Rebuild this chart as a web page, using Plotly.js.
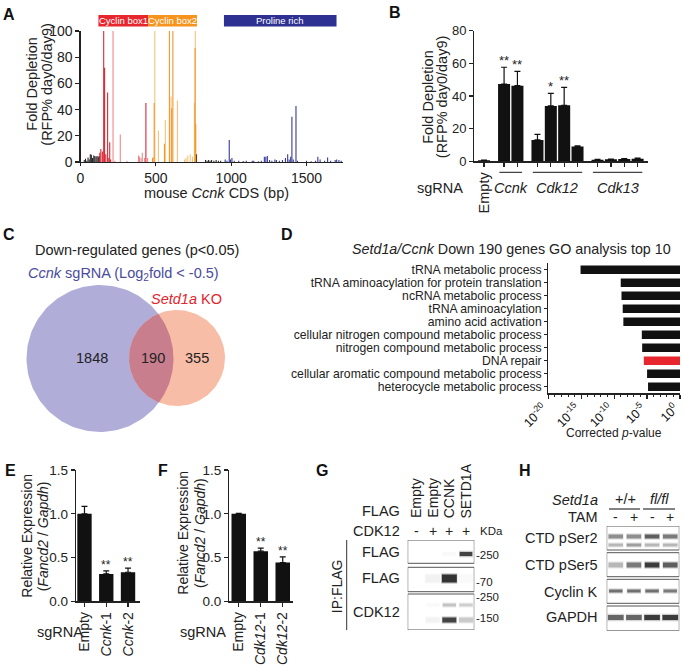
<!DOCTYPE html>
<html><head><meta charset="utf-8">
<script src="https://cdn.plot.ly/plotly-3.0.1.min.js"></script>
<style>html,body{margin:0;padding:0;background:#fff}#chart{width:685px;height:667px}</style>
</head><body><div id="chart"></div>
<script>
// ================= DATA =================
// Panel A: sgRNA tiling along mouse Ccnk CDS (bp position, fold depletion)
const aBlackPos = [25,33,42,50,58,65,72,80,88,95,103,110,118,125,770,830,840,850,860,870,885,900,915,930];
const aBlackVal = [1.5,2.5,1,3.5,2,6,5.5,3,5,4.5,4,4.5,4,4.5,6,1.5,1,1.5,1,1.5,1,1.5,1,1];
const aRedDarkPos = [128,135,145,154,160,168,180,188,194,200,434];
const aRedDarkVal = [7,10,8,100,72,6,53,3,15,2,45];
const aRedLightPos = [216,228,264,308,385,392,402,410,425,445];
const aRedLightVal = [100,1,21,1,5,4,3,7,3,3];
const aOrangeDarkPos = [478,489,557,590,605,613,760,765];
const aOrangeDarkVal = [3,45,14,100,41,100,87,29];
const aOrangeLightPos = [483,493,517,563,601,643,690,700,712,728,743,756,762];
const aOrangeLightVal = [4,100,24,32,50,47,2,3,5,6,4,45,100];
const aBluePos = [960,972,987,995,1005,1020,1050,1080,1100,1140,1150,1180,1200,1220,1230,1240,1255,1270,1290,1300,1320,1340,1360,1375,1385,1395,1403,1412,1430,1440,1500,1530,1560,1575,1590,1620,1640,1660,1690,1700,1715,1730];
const aBlueVal = [2,1,16.8,2,3,1,1,0.8,1,1,1,0.5,1,4,4,4.5,1.5,1,2,1.5,1,1.5,3,6,2,4,34.6,2,42.7,1,1,0.5,1,4,2,1,3.5,1,1.5,2,1.5,1];
const aDomains = ['Cyclin box1','Cyclin box2','Proline rich'];
const aDomainStart = [119,449,952];
const aDomainEnd = [449,773,1699];

// Panel B
const bGroups = ['Empty','Ccnk','Cdk12','Cdk13'];
const bGroupSizes = [1,2,4,4];
const bVal = [0.6,47.3,46.3,13.1,33.9,34.3,9.0,1.0,1.2,1.4,1.6];
const bErr = [0.1,10.3,8.8,3.4,7.7,11.0,0.4,0.2,0.2,0.2,0.3];
const bSig = ['','**','**','','*','**','','','','',''];

// Panel C (Venn)
const vennTitle = 'Down-regulated genes (p&lt;0.05)';
const vennSetA = '<i>Ccnk</i> sgRNA (Log<sub>2</sub>fold &lt; -0.5)';
const vennSetB = '<i>Setd1a</i> KO';
const vennCounts = [1848,190,355];

// Panel D
const goTerms = ['tRNA metabolic process','tRNA aminoacylation for protein translation','ncRNA metabolic process','tRNA aminoacylation','amino acid activation','cellular nitrogen compound metabolic process','nitrogen compound metabolic process','DNA repair','cellular aromatic compound metabolic process','heterocycle metabolic process'];
const goP = [7.9e-16,1.0e-9,1.3e-9,2.0e-9,2.5e-9,1.6e-6,1.8e-6,3.2e-6,1.0e-5,1.4e-5];
const goHighlight = 'DNA repair';
const goTickExp = [-20,-15,-10,-5,0];

// Panel E / F
const eLabels = ['Empty','<i>Ccnk</i>-1','<i>Ccnk</i>-2'];
const eVal = [1.0,0.313,0.332];
const eErr = [0.084,0.034,0.046];
const eSig = ['','**','**'];
const fLabels = ['Empty','<i>Cdk12</i>-1','<i>Cdk12</i>-2'];
const fVal = [1.0,0.573,0.443];
const fErr = [0.005,0.034,0.065];
const fSig = ['','**','**'];

// Panel G (blot band intensities per lane)
const gLanes = ['Empty','Empty','CCNK','SETD1A'];
const gCdk12 = ['-','+','+','+'];
const gRows = ['FLAG','FLAG','CDK12'];
const gMarkers = ['-250','-70','-250','-150'];
const gFlagHigh = [0,0,0.03,0.9];
const gFlagLow = [0,0.05,1.0,0.03];
const gCdk12Upper = [0,0.03,0.25,0.2];
const gCdk12Lower = [0,0.05,0.9,0.22];

// Panel H
const hGenotype = ['+/+','<i>fl/fl</i>'];
const hTam = ['-','+','-','+'];
const hRows = ['CTD pSer2','CTD pSer5','Cyclin K','GAPDH'];
const hSer2Upper = [0.5,0.5,0.75,0.6];
const hSer2Lower = [0.3,0.42,0.3,0.3];
const hSer5 = [0.3,0.6,0.95,0.75];
const hCyclinK = [0.65,0.65,0.65,0.6];
const hGapdh = [0.7,0.7,0.95,0.95];

// ================= HELPERS =================
const FONT = 'Liberation Sans, Arial, Helvetica, sans-serif';
const W = 685, H = 667;
const px = x => x / W, py = y => 1 - y / H;
const xd = (a,b) => [a/W, b/W];
const yd = (top,bot) => [1 - bot/H, 1 - top/H];
const INK = '#222';
function ax(o){
  return Object.assign({showline:true, linecolor:INK, linewidth:1.2, ticks:'outside', ticklen:4, tickwidth:1.2,
    tickcolor:INK, showgrid:false, zeroline:false, fixedrange:true,
    tickfont:{family:FONT, size:13.5, color:INK}}, o);
}
function hidden(o){ return Object.assign({visible:false, fixedrange:true, showgrid:false, zeroline:false}, o); }
function T(text, x, y, size, o){
  const a = {text, x:px(x), y:py(y), xref:'paper', yref:'paper', showarrow:false, xanchor:'center', yanchor:'middle',
    font:{family:FONT, size, color:(o && o.color) || INK}};
  if (o) for (const k in o) if (k !== 'color') a[k] = o[k];
  return a;
}

const traces = [];
const annotations = [];
const shapes = [];

// ================= PANEL A =================
function aBar(pos, val, color){
  traces.push({type:'bar', x:pos, y:val, width:7, marker:{color, line:{width:0}}, xaxis:'x', yaxis:'y', hoverinfo:'skip'});
}
aBar(aBlackPos, aBlackVal, '#231f20');
aBar(aBluePos, aBlueVal, '#2e3192');
aBar(aRedLightPos, aRedLightVal, '#ef8587');
aBar(aOrangeLightPos, aOrangeLightVal, '#f9bf78');
aBar(aRedDarkPos, aRedDarkVal, '#d7202c');
aBar(aOrangeDarkPos, aOrangeDarkVal, '#f39422');
const aDomColors = ['#e8262d','#f7941d','#2e3192'];
aDomains.forEach((d,i) => {
  shapes.push({type:'rect', xref:'x', yref:'paper', x0:aDomainStart[i], x1:aDomainEnd[i], y0:py(26.5), y1:py(15),
    fillcolor:aDomColors[i], line:{width:0}});
  annotations.push(T(d, 0, 20.8, 9.5, {xref:'x', x:(aDomainStart[i]+aDomainEnd[i])/2, color:'#fff'}));
});
annotations.push(T('Fold Depletion', 31.7, 84, 14.5, {textangle:-90}));
annotations.push(T('(RFP% day0/day9)', 46.7, 84, 14.5, {textangle:-90}));
annotations.push(T('mouse <i>Ccnk</i> CDS (bp)', 216, 192.5, 14.5));

// ================= PANEL B =================
const bPos = []; const bTickText = [];
{ let p = 0; bGroups.forEach((g,gi) => { for (let i=0;i<bGroupSizes[gi];i++){ bPos.push(p); bTickText.push(g==='Empty'?'Empty':' '); p+=1; } p+=0.5; }); }
traces.push({type:'bar', x:bPos, y:bVal, width:0.9, marker:{color:'#111', line:{width:0}}, xaxis:'x2', yaxis:'y2', hoverinfo:'skip',
  error_y:{type:'data', symmetric:false, array:bErr, arrayminus:bErr.map(()=>0), color:'#111', thickness:1.2, width:3}});
bSig.forEach((s,i) => { if (s) annotations.push({text:s, xref:'x2', yref:'y2', x:bPos[i], y:bVal[i]+bErr[i], yanchor:'bottom', xanchor:'center', showarrow:false, yshift:-3, font:{family:FONT,size:13,color:INK}}); });
{ let k = 0; bGroups.forEach((g,gi) => {
  const first = bPos[k], last = bPos[k+bGroupSizes[gi]-1]; k += bGroupSizes[gi];
  if (g === 'Empty') return;
  shapes.push({type:'line', xref:'x2', yref:'paper', x0:first-0.35, x1:last+0.35, y0:py(172.3), y1:py(172.3), line:{color:'#444', width:1.2}});
  annotations.push(T('<i>'+g+'</i>', 0, 188.3, 14.5, {xref:'x2', x:(first+last)/2}));
}); }
annotations.push(T('sgRNA', 440, 188.3, 14.5));
annotations.push(T('Fold Depletion', 428.3, 96.5, 14.5, {textangle:-90}));
annotations.push(T('(RFP% day0/day9)', 442.7, 96.5, 14.5, {textangle:-90}));

// ================= PANEL C (Venn) =================
const bigC = {cx:100, cy:358.5, r:73.5}, smallC = {cx:177, cy:358, r:48};
function arc(c, a0, a1, n){ const xs=[], ys=[]; for (let i=0;i<=n;i++){ const t=a0+(a1-a0)*i/n; xs.push(c.cx+c.r*Math.cos(t)); ys.push(c.cy+c.r*Math.sin(t)); } return [xs,ys]; }
function circleTrace(c, color){ const [xs,ys] = arc(c, 0, 2*Math.PI, 160); return {type:'scatter', mode:'lines', x:xs, y:ys, fill:'toself', fillcolor:color, line:{width:0}, xaxis:'x6', yaxis:'y6', hoverinfo:'skip'}; }
traces.push(circleTrace(bigC, '#b1add9'));
traces.push(circleTrace(smallC, '#f8bda6'));
{
  const dx = smallC.cx-bigC.cx, dy = smallC.cy-bigC.cy, d = Math.hypot(dx,dy), dir = Math.atan2(dy,dx);
  const a = (d*d + bigC.r*bigC.r - smallC.r*smallC.r)/(2*d), b = d - a;
  const al = Math.acos(a/bigC.r), be = Math.acos(b/smallC.r);
  const [x1,y1] = arc(bigC, dir-al, dir+al, 60);
  const [x2,y2] = arc(smallC, dir+Math.PI-be, dir+Math.PI+be, 60);
  traces.push({type:'scatter', mode:'lines', x:x1.concat(x2), y:y1.concat(y2), fill:'toself', fillcolor:'#c97e8e', line:{width:0}, xaxis:'x6', yaxis:'y6', hoverinfo:'skip'});
}
annotations.push(T(vennTitle, 137, 250, 14.5));
annotations.push(T(vennSetA, 123, 274, 14.5, {color:'#4b4b9e'}));
annotations.push(T(vennSetB, 187, 299, 14.5, {color:'#e0262e'}));
annotations.push(T(String(vennCounts[0]), 92, 358, 14.5));
annotations.push(T(String(vennCounts[1]), 153, 358, 14.5));
annotations.push(T(String(vennCounts[2]), 197, 358, 14.5));

// ================= PANEL D =================
const goIdx = goTerms.map((_,i)=>i);
traces.push({type:'bar', orientation:'h', y:goIdx, x:goP.map(p=>Math.log10(p)), width:0.66,
  marker:{color:goTerms.map(t=>t===goHighlight?'#e8262d':'#111'), line:{width:0}}, xaxis:'x3', yaxis:'y3', hoverinfo:'skip'});
goTickExp.forEach(e => annotations.push({text:'10<sup>'+e+'</sup>', xref:'x3', yref:'paper', x:e, y:py(396.5), xanchor:'right', yanchor:'top',
  xshift:4, textangle:-45, showarrow:false, font:{family:FONT, size:12.5, color:'#111'}}));
annotations.push(T('<i>Setd1a/Ccnk</i> Down 190 genes GO analysis top 10', 511.7, 249.3, 14.3));
annotations.push(T('Corrected <i>p</i>-value', 614, 433.3, 12));

// ================= PANEL E / F =================
function smallBars(vals, errs, sig, xa, ya){
  const xs = vals.map((_,i)=>i);
  traces.push({type:'bar', x:xs, y:vals, width:0.66, marker:{color:'#111', line:{width:0}}, xaxis:xa, yaxis:ya, hoverinfo:'skip',
    error_y:{type:'data', symmetric:false, array:errs, arrayminus:errs.map(()=>0), color:'#111', thickness:1.2, width:3}});
  sig.forEach((s,i)=>{ if (s) annotations.push({text:s, xref:xa, yref:ya, x:i, y:vals[i]+errs[i], xanchor:'center', yanchor:'bottom', yshift:-3, showarrow:false, font:{family:FONT,size:12,color:INK}}); });
}
smallBars(eVal, eErr, eSig, 'x4', 'y4');
smallBars(fVal, fErr, fSig, 'x5', 'y5');
annotations.push(T('Relative Expression', 26.7, 536, 14, {textangle:-90}));
annotations.push(T('(<i>Fancd2</i> / <i>Gapdh</i>)', 43.3, 536, 14, {textangle:-90}));
annotations.push(T('sgRNA', 60, 631.7, 14.5));
annotations.push(T('Relative Expression', 182.7, 533, 14, {textangle:-90}));
annotations.push(T('(<i>Fancd2</i> / <i>Gapdh</i>)', 200, 533, 14, {textangle:-90}));
annotations.push(T('sgRNA', 203.3, 631.7, 14.5));

// ================= BLOTS =================
function band(xa, ya, lane, y, inten, thick, halfw){
  if (inten < 0.02) return;
  traces.push({type:'scatter', mode:'lines', x:[lane-halfw-0.03, lane+halfw+0.03], y:[y,y], line:{color:'rgba(70,70,70,'+(0.3*inten).toFixed(3)+')', width:thick+2.5}, xaxis:xa, yaxis:ya, hoverinfo:'skip'});
  traces.push({type:'scatter', mode:'lines', x:[lane-halfw, lane+halfw], y:[y,y], line:{color:'rgba(25,25,25,'+(0.85*inten).toFixed(3)+')', width:thick}, xaxis:xa, yaxis:ya, hoverinfo:'skip'});
}
function frame(xa, ya, y0, y1){ shapes.push({type:'rect', xref:xa, yref:ya, x0:-0.5, x1:3.5, y0, y1, line:{color:'#555', width:1}, fillcolor:'rgba(0,0,0,0)'}); }

// G
const gBoxes = [[540,563.3],[567.3,591.7],[594,630]];
gBoxes.forEach(b=>frame('x7','y7',b[0],b[1]));
gFlagHigh.forEach((v,i)=>band('x7','y7',i,554,v,4,0.38));
gFlagLow.forEach((v,i)=>band('x7','y7',i,578.5,v,8,0.45));
gCdk12Upper.forEach((v,i)=>band('x7','y7',i,605,v,3,0.4));
gCdk12Lower.forEach((v,i)=>band('x7','y7',i,620,v,5,0.42));
gLanes.forEach((l,i)=>annotations.push(T(l, 0, 520, 14, {xref:'x7', x:i, yanchor:'bottom', textangle:-90})));
gCdk12.forEach((s,i)=>annotations.push(T(s, 0, 530.7, 14, {xref:'x7', x:i})));
annotations.push(T('FLAG', 401.5, 511, 14.5, {xanchor:'right'}));
annotations.push(T('CDK12', 401.5, 530.7, 14.5, {xanchor:'right'}));
annotations.push(T('KDa', 478, 530.7, 11.5, {xanchor:'left'}));
[552.3,578.3,612.3].forEach((y,i)=>annotations.push(T(gRows[i], 401.5, y, 14.5, {xanchor:'right'})));
[555,581.7,596.7,618.3].forEach((y,i)=>annotations.push(T(gMarkers[i], 474, y, 11.5, {xanchor:'left'})));
annotations.push(T('IP:FLAG', 336.5, 586.7, 14, {textangle:-90}));
shapes.push({type:'line', xref:'paper', yref:'paper', x0:px(346.7), x1:px(346.7), y0:py(540), y1:py(630), line:{color:'#333', width:1}});

// H
const hBoxes = [[526,550],[552.7,576.7],[579.3,603.3],[606,630.7]];
hBoxes.forEach(b=>frame('x8','y8',b[0],b[1]));
hSer2Upper.forEach((v,i)=>band('x8','y8',i,536.5,v,4,0.4));
hSer2Lower.forEach((v,i)=>band('x8','y8',i,545,v,3,0.4));
hSer5.forEach((v,i)=>band('x8','y8',i,565,v,5,0.4));
hCyclinK.forEach((v,i)=>band('x8','y8',i,591,v,3,0.37));
hGapdh.forEach((v,i)=>band('x8','y8',i,617.5,v,5,0.43));
annotations.push(T('<i>Setd1a</i>', 600, 500, 14.5, {xanchor:'right'}));
annotations.push(T(hGenotype[0], 625.7, 499.5, 14.5));
annotations.push(T(hGenotype[1], 659.3, 499.5, 14.5));
shapes.push({type:'line', xref:'paper', yref:'paper', x0:px(609), x1:px(640), y0:py(509), y1:py(509), line:{color:'#333', width:1.2}});
shapes.push({type:'line', xref:'paper', yref:'paper', x0:px(643), x1:px(675), y0:py(509), y1:py(509), line:{color:'#333', width:1.2}});
annotations.push(T('TAM', 600, 517.3, 14.5, {xanchor:'right'}));
hTam.forEach((s,i)=>annotations.push(T(s, 0, 517.3, 14, {xref:'x8', x:i})));
[538.3,565,591.7,617.3].forEach((y,i)=>annotations.push(T(hRows[i], 600, y, 14.5, {xanchor:'right'})));

// Panel letters
[['A',9,15],['B',395,12],['C',9,235],['D',287,235],['E',10,470],['F',163,470],['G',322,470],['H',525,470]]
  .forEach(([l,x,y])=>annotations.push(T('<b>'+l+'</b>', x, y, 16, {color:'#111'})));

// ================= LAYOUT =================
const layout = {
  width:W, height:H, margin:{l:0,r:0,t:0,b:0}, paper_bgcolor:'#fff', plot_bgcolor:'rgba(0,0,0,0)',
  showlegend:false, barmode:'overlay', font:{family:FONT, color:INK},
  xaxis: ax({domain:xd(80.5,343), range:[0,1742], tickvals:[0,500,1000,1500], anchor:'y', ticklen:3, tickfont:{family:FONT,size:14,color:INK}}),
  yaxis: ax({domain:yd(31,162), range:[0,100], tickvals:[0,20,40,60,80,100], anchor:'x', tickfont:{family:FONT,size:14,color:INK}}),
  xaxis2: ax({domain:xd(474.3,648.3), range:[-0.73,12.3], tickvals:bPos, ticktext:bTickText, tickangle:-90, anchor:'y2', tickfont:{family:FONT,size:14.5,color:INK}}),
  yaxis2: ax({domain:yd(30.7,161.3), range:[0,80], tickvals:[0,20,40,60,80], anchor:'x2', tickfont:{family:FONT,size:13,color:INK}}),
  xaxis3: ax({domain:xd(548.3,680), range:[-20,0], tickvals:goTickExp, showticklabels:false, anchor:'y3',
    minor:{tickmode:'linear', tick0:0, dtick:1, ticks:'outside', ticklen:2.5, tickcolor:INK, tickwidth:1}}),
  yaxis3: ax({domain:yd(263.3,393.3), range:[9.5,-0.5], tickmode:'array', tickvals:goIdx, ticktext:goTerms, anchor:'x3', ticklen:3, tickfont:{family:FONT,size:12.2,color:INK}}),
  xaxis4: ax({domain:xd(76,140), range:[-0.39,2.55], tickvals:[0,1,2], ticktext:eLabels, tickangle:-90, anchor:'y4', tickfont:{family:FONT,size:14,color:INK}}),
  yaxis4: ax({domain:yd(470,601.3), range:[0,1.5], tickvals:[0,0.5,1,1.5], ticktext:['0.0','0.5','1.0','1.5'], anchor:'x4', tickfont:{family:FONT,size:13.5,color:INK}}),
  xaxis5: ax({domain:xd(229.3,293.3), range:[-0.43,2.48], tickvals:[0,1,2], ticktext:fLabels, tickangle:-90, anchor:'y5', tickfont:{family:FONT,size:14,color:INK}}),
  yaxis5: ax({domain:yd(470,601.3), range:[0,1.5], tickvals:[0,0.5,1,1.5], ticktext:['0.0','0.5','1.0','1.5'], anchor:'x5', tickfont:{family:FONT,size:13.5,color:INK}}),
  xaxis6: hidden({domain:xd(0,340), range:[0,340], anchor:'y6'}),
  yaxis6: hidden({domain:yd(200,460), range:[460,200], anchor:'x6'}),
  xaxis7: hidden({domain:xd(407.7,474.3), range:[-0.5,3.5], anchor:'y7'}),
  yaxis7: hidden({domain:yd(540,630), range:[630,540], anchor:'x7'}),
  xaxis8: hidden({domain:xd(606.7,679.3), range:[-0.5,3.5], anchor:'y8'}),
  yaxis8: hidden({domain:yd(526,630.7), range:[630.7,526], anchor:'x8'}),
  annotations, shapes
};
Plotly.newPlot('chart', traces, layout, {staticPlot:true, displayModeBar:false});
</script></body></html>
